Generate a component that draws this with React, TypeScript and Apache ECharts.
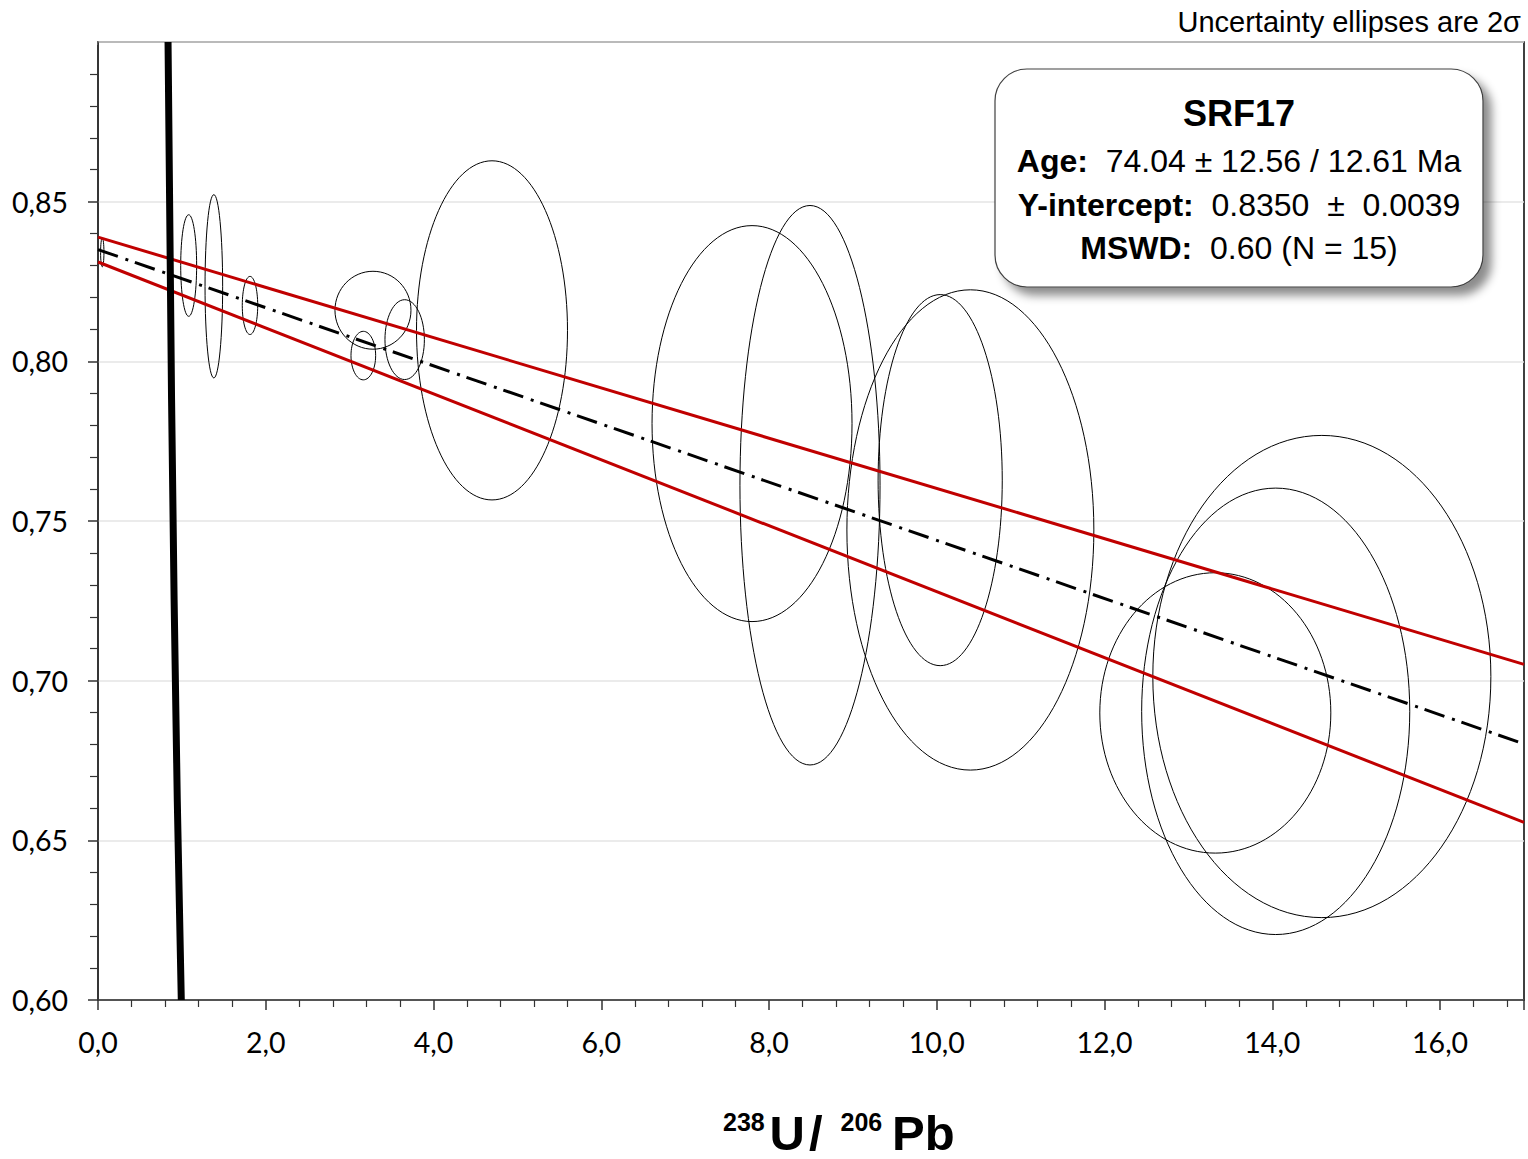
import React, { useEffect, useRef } from 'react';
import * as echarts from 'echarts';

// Uncertainty ellipses (2σ): centre x, centre y, half-width x, half-height y
const ELLIPSE_X = [0.051, 1.081, 1.381, 1.812, 3.278, 3.163, 3.656, 4.697, 7.797, 8.488, 10.04, 10.40, 13.32, 14.04, 14.59];
const ELLIPSE_Y = [0.8341, 0.8300, 0.8235, 0.8175, 0.8160, 0.8018, 0.8068, 0.8097, 0.7805, 0.7612, 0.7628, 0.7472, 0.6899, 0.6904, 0.7013];
const ELLIPSE_SX = [0.02, 0.095, 0.105, 0.092, 0.453, 0.147, 0.235, 0.900, 1.192, 0.835, 0.74, 1.472, 1.377, 1.598, 2.015];
const ELLIPSE_SY = [0.0045, 0.0159, 0.0287, 0.0091, 0.0122, 0.0076, 0.0125, 0.0531, 0.0620, 0.0876, 0.0581, 0.0752, 0.0439, 0.0699, 0.0755];

// Regression line and its error envelope
const REGRESSION_X = [0, 17];
const REGRESSION_Y = [0.835, 0.6802];
const UPPER_Y = [0.8389, 0.7051];
const LOWER_Y = [0.8311, 0.6556];

// Concordia curve (Tera-Wasserburg)
const CONCORDIA_X = [0.835, 0.877, 0.945, 0.993];
const CONCORDIA_Y = [0.90, 0.788, 0.6627, 0.60];

// Axis ranges
const X_MIN = 0, X_MAX = 17, X_INTERVAL = 2;
const Y_MIN = 0.6, Y_MAX = 0.9, Y_INTERVAL = 0.05;

// Texts
const NOTE = 'Uncertainty ellipses are 2σ';
const SAMPLE = 'SRF17';
const STAT_LABELS = ['Age:', 'Y-intercept:', 'MSWD:'];
const STAT_VALUES = ['74.04 ± 12.56 / 12.61 Ma', '0.8350\u00a0\u00a0±\u00a0\u00a00.0039', '0.60 (N = 15)'];
const TITLE_PARTS = ['238', 'U', '/', '206', 'Pb'];

const SANS = '"Liberation Sans", Arial, sans-serif';
const AXFONT = 'Lato, "Open Sans", sans-serif';

export default function App() {
  const ref = useRef<HTMLDivElement>(null);

  useEffect(() => {
    if (!ref.current) return;
    const chart = echarts.init(ref.current, null, { renderer: 'svg' });

    const ellipseData = ELLIPSE_X.map((x, i) => [x, ELLIPSE_Y[i], ELLIPSE_SX[i], ELLIPSE_SY[i]]);
    const pair = (xs: number[], ys: number[]) => xs.map((x, i) => [x, ys[i]]);

    const statTexts = STAT_LABELS.map((lab, i) => ({
      type: 'text',
      x: 1239,
      y: 161 + i * 43.5,
      z: 101,
      style: {
        text: `{b|${lab}}{n|\u00a0\u00a0${STAT_VALUES[i]}}`,
        align: 'center',
        verticalAlign: 'middle',
        rich: {
          b: { fontSize: 32, fontWeight: 'bold', fontFamily: SANS, fill: '#000', color: '#000' },
          n: { fontSize: 32, fontFamily: SANS, fill: '#000', color: '#000' },
        },
      },
    }));

    // axis title pieces: [text, left x, centre y, font size]
    const titleLayout: [string, number, number, number][] = [
      [TITLE_PARTS[0], 723, 1121.5, 25],
      [TITLE_PARTS[1], 769.5, 1133.3, 49],
      [TITLE_PARTS[2], 809, 1133.3, 49],
      [TITLE_PARTS[3], 840.5, 1121.5, 25],
      [TITLE_PARTS[4], 892, 1133.3, 49],
    ];
    const titleTexts = titleLayout.map(([t, x, y, fs]) => ({
      type: 'text',
      x,
      y,
      z: 100,
      style: {
        text: t,
        align: 'left',
        verticalAlign: 'middle',
        fontSize: fs,
        fontWeight: 'bold',
        fontFamily: SANS,
        fill: '#000',
      },
    }));

    chart.setOption({
      animation: false,
      backgroundColor: '#fff',
      grid: {
        left: 98,
        top: 42,
        right: 4,
        bottom: 159,
        show: true,
        borderColor: '#000',
        borderWidth: 1.5,
        backgroundColor: 'transparent',
      },
      xAxis: {
        type: 'value',
        min: X_MIN,
        max: X_MAX,
        interval: X_INTERVAL,
        axisLine: { show: true, onZero: false, lineStyle: { color: '#333', width: 1.5 } },
        axisTick: { show: true, length: 10, lineStyle: { color: '#333', width: 1.5 } },
        minorTick: { show: true, splitNumber: 5, length: 7, lineStyle: { color: '#333', width: 1.2 } },
        splitLine: { show: false },
        axisLabel: {
          margin: 27,
          fontSize: 28.5,
          fontFamily: AXFONT,
          color: '#000',
          showMaxLabel: false,
          formatter: (v: number) => v.toFixed(1).replace('.', ','),
        },
      },
      yAxis: {
        type: 'value',
        min: Y_MIN,
        max: Y_MAX,
        interval: Y_INTERVAL,
        axisLine: { show: true, onZero: false, lineStyle: { color: '#333', width: 1.5 } },
        axisTick: { show: true, length: 10, lineStyle: { color: '#333', width: 1.5 } },
        minorTick: { show: true, splitNumber: 5, length: 8, lineStyle: { color: '#333', width: 1.2 } },
        splitLine: { show: true, lineStyle: { color: '#e4e4e4', width: 1.5 } },
        axisLabel: {
          margin: 30,
          fontSize: 28.5,
          fontFamily: AXFONT,
          color: '#000',
          showMaxLabel: false,
          formatter: (v: number) => v.toFixed(2).replace('.', ','),
        },
      },
      series: [
        {
          type: 'custom',
          name: 'ellipses',
          data: ellipseData,
          clip: true,
          z: 2,
          renderItem: (params: any, api: any) => {
            const c = api.coord([api.value(0), api.value(1)]);
            const s = api.size([api.value(2), api.value(3)]);
            return {
              type: 'ellipse',
              shape: { cx: c[0], cy: c[1], rx: s[0], ry: s[1] },
              style: { fill: 'none', stroke: '#000', lineWidth: 1 },
            };
          },
        },
        {
          type: 'line',
          name: 'upper',
          data: pair(REGRESSION_X, UPPER_Y),
          symbol: 'none',
          z: 3,
          lineStyle: { color: '#c00000', width: 3 },
        },
        {
          type: 'line',
          name: 'lower',
          data: pair(REGRESSION_X, LOWER_Y),
          symbol: 'none',
          z: 3,
          lineStyle: { color: '#c00000', width: 3 },
        },
        {
          type: 'line',
          name: 'regression',
          data: pair(REGRESSION_X, REGRESSION_Y),
          symbol: 'none',
          z: 4,
          lineStyle: { color: '#000', width: 3, type: [21, 8, 3, 7], cap: 'butt' },
        },
        {
          type: 'line',
          name: 'concordia',
          data: pair(CONCORDIA_X, CONCORDIA_Y),
          symbol: 'none',
          smooth: true,
          z: 5,
          lineStyle: { color: '#000', width: 7 },
        },
      ],
      graphic: [
        {
          // hide the tick at the axis top (not drawn in the reference)
          type: 'rect',
          z: 50,
          shape: { x: 84, y: 39, width: 13.2, height: 6 },
          style: { fill: '#fff' },
        },
        {
          type: 'text',
          x: 1521,
          y: 22,
          z: 100,
          style: {
            text: NOTE,
            align: 'right',
            verticalAlign: 'middle',
            fontSize: 29,
            fontFamily: SANS,
            fill: '#000',
          },
        },
        {
          type: 'rect',
          z: 99,
          shape: { x: 995, y: 69, width: 488, height: 218, r: 32 },
          style: {
            fill: '#fff',
            stroke: '#404040',
            lineWidth: 1.2,
            shadowBlur: 10,
            shadowOffsetX: 8,
            shadowOffsetY: 8,
            shadowColor: 'rgba(0,0,0,0.45)',
          },
        },
        {
          type: 'text',
          x: 1239,
          y: 113,
          z: 101,
          style: {
            text: SAMPLE,
            align: 'center',
            verticalAlign: 'middle',
            fontSize: 36,
            fontWeight: 'bold',
            fontFamily: SANS,
            fill: '#000',
          },
        },
        ...statTexts,
        ...titleTexts,
      ],
    });

    return () => chart.dispose();
  }, []);

  return (
    <div
      ref={ref}
      style={{ position: 'absolute', left: 0, top: 0, width: 1528, height: 1159, background: '#fff' }}
    />
  );
}
